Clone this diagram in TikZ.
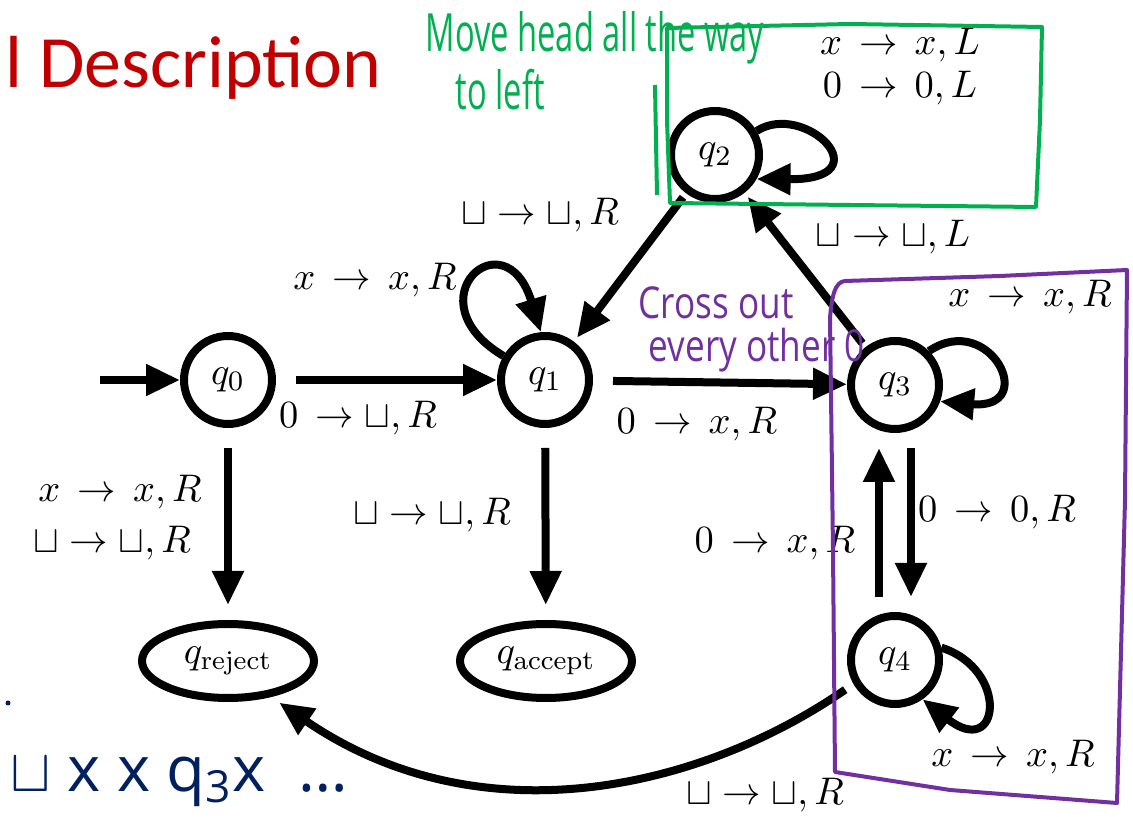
\documentclass[tikz,border=0pt]{standalone}
\usepackage{amsmath,amssymb}
\usepackage{graphicx}
\usepackage{fontspec}
\usepackage{xcolor}
\usepackage{tikz}
\usetikzlibrary{arrows.meta,positioning,shapes.geometric}

\newfontfamily\titlefont{Carlito}
\newfontfamily\handfont{Open Sans}
\definecolor{titlered}{RGB}{192,0,0}
\definecolor{penGreen}{RGB}{0,176,80}
\definecolor{penPurple}{RGB}{112,48,160}
\definecolor{penNavy}{RGB}{0,32,96}

\begin{document}
\begin{tikzpicture}[
    x=0.1mm, y=-0.1mm,
    font=\fontsize{11}{13}\selectfont,
    state/.style={draw, circle, line width=0.8mm, minimum size=8.8mm, inner sep=0pt},
    halt/.style={draw, ellipse, line width=0.8mm, minimum width=17.2mm, minimum height=7.4mm, inner sep=0pt},
    arr/.style={-{Triangle[length=3.4mm,width=3mm]}, line width=0.8mm},
    lbl/.style={inner sep=1pt},
    hand/.style={inner sep=0pt, font=\handfont\fontsize{15}{17}\selectfont},
    pen/.style={line width=0.4mm, line join=round}
]
\useasboundingbox (0,0) rectangle (1133,817);

% title
\node[anchor=base west, inner sep=0pt, text=titlered, font=\titlefont\fontsize{21}{24}\selectfont] (title) at (5,88) {l Description};

% states
\node[state] (q0) at (228,380) {$q_0$};
\node[state] (q1) at (545,380) {$q_1$};
\node[state] (q2) at (715,155) {$q_2$};
\node[state] (q3) at (895,385) {$q_3$};
\node[state] (q4) at (895,660) {$q_4$};
\node[halt] (qrej) at (228,661) {$q_{\text{reject}}$};
\node[halt] (qacc) at (546,661) {$q_{\text{accept}}$};
\coordinate (start) at (100,380);

% transitions
\draw[arr] (start) -- (q0);
\draw[arr, shorten <=2mm] (q0) -- (q1);
\draw[arr, shorten <=2mm] (q1) -- (q3);
\draw[arr, shorten <=2mm, shorten >=1.5mm] (q0) -- (qrej);
\draw[arr, shorten <=2mm, shorten >=1.5mm] (q1) -- (qacc);
\draw[arr, shorten <=0.5mm, shorten >=0.5mm] (q2) -- (q1);
\draw[arr, shorten <=0.5mm, shorten >=0.5mm] (q3) -- (q2);
\draw[arr, shorten <=1.5mm, shorten >=1.5mm] ([xshift=-1.6mm]q4.north) -- ([xshift=-1.6mm]q3.south);
\draw[arr, shorten <=1.5mm, shorten >=1.5mm] ([xshift=1.6mm]q3.south) -- ([xshift=1.6mm]q4.north);
\draw[arr, shorten <=1mm, shorten >=1mm] (q4.-150) .. controls (700,790) and (480,840) .. (qrej.-40);

% self loops
\draw[arr] (q1.150) .. controls (410,300) and (505,215) .. (q1.95);
\draw[arr] (q2.30) .. controls (805,100) and (885,180) .. (q2.-30);
\draw[arr] (q3.45) .. controls (990,310) and (1040,410) .. (q3.-20);
\draw[arr] (q4.15) .. controls (1010,670) and (1000,760) .. (q4.-55);

% labels
\node[lbl] (l01) at (358,418) {$0 \,\rightarrow \sqcup, R$};
\node[lbl] (l13) at (697,424) {$0 \,\rightarrow\, x, R$};
\node[lbl] (l11) at (375,280) {$x \,\rightarrow\, x, R$};
\node[lbl] (l21) at (540,215) {$\sqcup \rightarrow \sqcup, R$};
\node[lbl] (l32) at (893,237) {$\sqcup \rightarrow \sqcup, L$};
\node[lbl] (l22a) at (900,45) {$x \,\rightarrow\, x, L$};
\node[lbl] (l22b) at (900,88) {$0 \,\rightarrow\, 0, L$};
\node[lbl] (l33) at (1030,297) {$x \,\rightarrow\, x, R$};
\node[lbl] (l34) at (997,512) {$0 \,\rightarrow\, 0, R$};
\node[lbl] (l43) at (775,543) {$0 \,\rightarrow\, x, R$};
\node[lbl] (l44) at (1013,757) {$x \,\rightarrow\, x, R$};
\node[lbl] (l4r) at (765,795) {$\sqcup \rightarrow \sqcup, R$};
\node[lbl] (l0ra) at (120,492) {$x \,\rightarrow\, x, R$};
\node[lbl] (l0rb) at (112,543) {$\sqcup \rightarrow \sqcup, R$};
\node[lbl] (l1a) at (432,515) {$\sqcup \rightarrow \sqcup, R$};

% handwritten notes
\draw[pen, penGreen] (667,28) -- (850,24) -- (1042,27) -- (1040,120) -- (1036,207) -- (850,205) -- (670,203) -- (667,120) -- cycle;
\draw[pen, penGreen] (655,85) -- (657,195);
\node[hand, text=penGreen, anchor=west] (noteA) at (425,38) {\scalebox{0.62}[1]{Move head all the way}};
\node[hand, text=penGreen, anchor=west] (noteB) at (455,90) {\scalebox{0.62}[1]{to left}};

\draw[pen, penPurple] (830,318) .. controls (832,295) and (835,282) .. (845,281) -- (1000,276) -- (1127,270) -- (1125,500) -- (1117,803) -- (950,790) -- (835,772) -- (833,550) -- (830,318);
\node[hand, text=penPurple, anchor=west, font=\handfont\fontsize{12.5}{14}\selectfont] (noteC) at (638,303) {\scalebox{0.8}[1]{Cross out}};
\node[hand, text=penPurple, anchor=west, font=\handfont\fontsize{12.5}{14}\selectfont] (noteD) at (648,350) {\scalebox{0.8}[1]{every other 0}};

\node[hand, text=penNavy, anchor=west, font=\handfont\fontsize{18}{20}\selectfont] (tape) at (10,782) {$\sqcup$ x x q\textsubscript{3}x \ \ldots};
\fill[penNavy] (8,703) circle (0.25mm);
\end{tikzpicture}
\end{document}
